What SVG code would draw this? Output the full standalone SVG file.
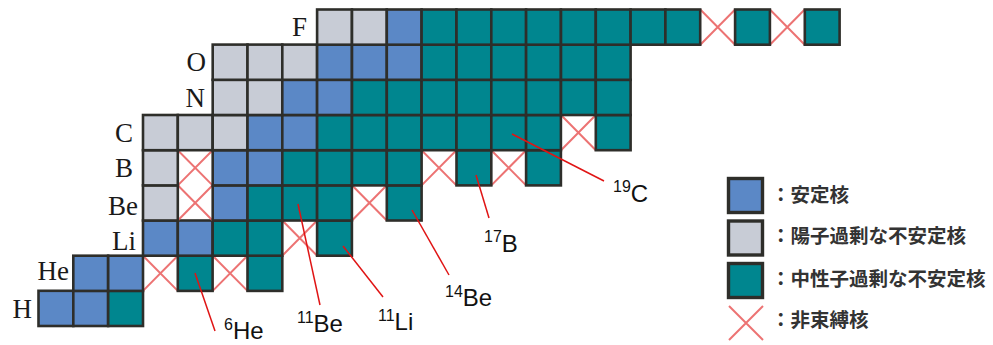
<svg xmlns="http://www.w3.org/2000/svg" width="993" height="345" viewBox="0 0 993 345">
<style>
.c{stroke:#2e2e2a;stroke-width:2.6}
.b{fill:#5b88c6}.g{fill:#c8ccd6}.t{fill:#00868f}
.x{stroke:#ea6464;stroke-width:2;fill:none;opacity:0.9}
.el{font-family:"Liberation Serif","Times New Roman",serif;font-size:27px;fill:#1a1a1a;text-anchor:end}
.iso{font-family:"Liberation Sans",Arial,sans-serif;font-size:24px;fill:#111}
.sup{font-size:16px}
.lead{stroke:#e01414;stroke-width:1.5;fill:none}
.lg{font-family:"Noto Sans CJK JP","Noto Sans CJK SC",sans-serif;font-size:19.5px;font-weight:bold;fill:#333}
.ls{stroke:#2e2e2a;stroke-width:3.4}
</style>
<defs>
<path id="X" class="x" d="M0 0L34.8 35.2M34.8 0L0 35.2"/>
</defs>
<g id="chart">
<g id="row-H">
<rect id="H1" class="c b" x="38.5" y="290.8" width="34.8" height="35.2"/>
<rect id="H2" class="c b" x="73.3" y="290.8" width="34.8" height="35.2"/>
<rect id="H3" class="c t" x="108.2" y="290.8" width="34.8" height="35.2"/>
</g>
<g id="row-He">
<use id="He5" href="#X" x="143.0" y="255.7"/>
<use id="He7" href="#X" x="212.7" y="255.7"/>
<rect id="He3" class="c b" x="73.3" y="255.7" width="34.8" height="35.2"/>
<rect id="He4" class="c b" x="108.2" y="255.7" width="34.8" height="35.2"/>
<rect id="He6" class="c t" x="177.8" y="255.7" width="34.8" height="35.2"/>
<rect id="He8" class="c t" x="247.5" y="255.7" width="34.8" height="35.2"/>
</g>
<g id="row-Li">
<use id="Li10" href="#X" x="282.3" y="220.5"/>
<rect id="Li6" class="c b" x="143.0" y="220.5" width="34.8" height="35.2"/>
<rect id="Li7" class="c b" x="177.8" y="220.5" width="34.8" height="35.2"/>
<rect id="Li8" class="c t" x="212.7" y="220.5" width="34.8" height="35.2"/>
<rect id="Li9" class="c t" x="247.5" y="220.5" width="34.8" height="35.2"/>
<rect id="Li11" class="c t" x="317.1" y="220.5" width="34.8" height="35.2"/>
</g>
<g id="row-Be">
<use id="Be8" href="#X" x="177.8" y="185.3"/>
<use id="Be13" href="#X" x="352.0" y="185.3"/>
<rect id="Be7" class="c g" x="143.0" y="185.3" width="34.8" height="35.2"/>
<rect id="Be9" class="c b" x="212.7" y="185.3" width="34.8" height="35.2"/>
<rect id="Be10" class="c t" x="247.5" y="185.3" width="34.8" height="35.2"/>
<rect id="Be11" class="c t" x="282.3" y="185.3" width="34.8" height="35.2"/>
<rect id="Be12" class="c t" x="317.1" y="185.3" width="34.8" height="35.2"/>
<rect id="Be14" class="c t" x="386.8" y="185.3" width="34.8" height="35.2"/>
</g>
<g id="row-B">
<use id="B9" href="#X" x="177.8" y="150.2"/>
<use id="B16" href="#X" x="421.6" y="150.2"/>
<use id="B18" href="#X" x="491.3" y="150.2"/>
<rect id="B8" class="c g" x="143.0" y="150.2" width="34.8" height="35.2"/>
<rect id="B10" class="c b" x="212.7" y="150.2" width="34.8" height="35.2"/>
<rect id="B11" class="c b" x="247.5" y="150.2" width="34.8" height="35.2"/>
<rect id="B12" class="c t" x="282.3" y="150.2" width="34.8" height="35.2"/>
<rect id="B13" class="c t" x="317.1" y="150.2" width="34.8" height="35.2"/>
<rect id="B14" class="c t" x="352.0" y="150.2" width="34.8" height="35.2"/>
<rect id="B15" class="c t" x="386.8" y="150.2" width="34.8" height="35.2"/>
<rect id="B17" class="c t" x="456.5" y="150.2" width="34.8" height="35.2"/>
<rect id="B19" class="c t" x="526.1" y="150.2" width="34.8" height="35.2"/>
</g>
<g id="row-C">
<use id="C21" href="#X" x="561.0" y="115.0"/>
<rect id="C9" class="c g" x="143.0" y="115.0" width="34.8" height="35.2"/>
<rect id="C10" class="c g" x="177.8" y="115.0" width="34.8" height="35.2"/>
<rect id="C11" class="c g" x="212.7" y="115.0" width="34.8" height="35.2"/>
<rect id="C12" class="c b" x="247.5" y="115.0" width="34.8" height="35.2"/>
<rect id="C13" class="c b" x="282.3" y="115.0" width="34.8" height="35.2"/>
<rect id="C14" class="c t" x="317.1" y="115.0" width="34.8" height="35.2"/>
<rect id="C15" class="c t" x="352.0" y="115.0" width="34.8" height="35.2"/>
<rect id="C16" class="c t" x="386.8" y="115.0" width="34.8" height="35.2"/>
<rect id="C17" class="c t" x="421.6" y="115.0" width="34.8" height="35.2"/>
<rect id="C18" class="c t" x="456.5" y="115.0" width="34.8" height="35.2"/>
<rect id="C19" class="c t" x="491.3" y="115.0" width="34.8" height="35.2"/>
<rect id="C20" class="c t" x="526.1" y="115.0" width="34.8" height="35.2"/>
<rect id="C22" class="c t" x="595.8" y="115.0" width="34.8" height="35.2"/>
</g>
<g id="row-N">
<rect id="N12" class="c g" x="212.7" y="79.8" width="34.8" height="35.2"/>
<rect id="N13" class="c g" x="247.5" y="79.8" width="34.8" height="35.2"/>
<rect id="N14" class="c b" x="282.3" y="79.8" width="34.8" height="35.2"/>
<rect id="N15" class="c b" x="317.1" y="79.8" width="34.8" height="35.2"/>
<rect id="N16" class="c t" x="352.0" y="79.8" width="34.8" height="35.2"/>
<rect id="N17" class="c t" x="386.8" y="79.8" width="34.8" height="35.2"/>
<rect id="N18" class="c t" x="421.6" y="79.8" width="34.8" height="35.2"/>
<rect id="N19" class="c t" x="456.5" y="79.8" width="34.8" height="35.2"/>
<rect id="N20" class="c t" x="491.3" y="79.8" width="34.8" height="35.2"/>
<rect id="N21" class="c t" x="526.1" y="79.8" width="34.8" height="35.2"/>
<rect id="N22" class="c t" x="561.0" y="79.8" width="34.8" height="35.2"/>
<rect id="N23" class="c t" x="595.8" y="79.8" width="34.8" height="35.2"/>
</g>
<g id="row-O">
<rect id="O13" class="c g" x="212.7" y="44.6" width="34.8" height="35.2"/>
<rect id="O14" class="c g" x="247.5" y="44.6" width="34.8" height="35.2"/>
<rect id="O15" class="c g" x="282.3" y="44.6" width="34.8" height="35.2"/>
<rect id="O16" class="c b" x="317.1" y="44.6" width="34.8" height="35.2"/>
<rect id="O17" class="c b" x="352.0" y="44.6" width="34.8" height="35.2"/>
<rect id="O18" class="c b" x="386.8" y="44.6" width="34.8" height="35.2"/>
<rect id="O19" class="c t" x="421.6" y="44.6" width="34.8" height="35.2"/>
<rect id="O20" class="c t" x="456.5" y="44.6" width="34.8" height="35.2"/>
<rect id="O21" class="c t" x="491.3" y="44.6" width="34.8" height="35.2"/>
<rect id="O22" class="c t" x="526.1" y="44.6" width="34.8" height="35.2"/>
<rect id="O23" class="c t" x="561.0" y="44.6" width="34.8" height="35.2"/>
<rect id="O24" class="c t" x="595.8" y="44.6" width="34.8" height="35.2"/>
</g>
<g id="row-F">
<use id="F28" href="#X" x="700.3" y="9.5"/>
<use id="F30" href="#X" x="769.9" y="9.5"/>
<rect id="F17" class="c g" x="317.1" y="9.5" width="34.8" height="35.2"/>
<rect id="F18" class="c g" x="352.0" y="9.5" width="34.8" height="35.2"/>
<rect id="F19" class="c b" x="386.8" y="9.5" width="34.8" height="35.2"/>
<rect id="F20" class="c t" x="421.6" y="9.5" width="34.8" height="35.2"/>
<rect id="F21" class="c t" x="456.5" y="9.5" width="34.8" height="35.2"/>
<rect id="F22" class="c t" x="491.3" y="9.5" width="34.8" height="35.2"/>
<rect id="F23" class="c t" x="526.1" y="9.5" width="34.8" height="35.2"/>
<rect id="F24" class="c t" x="561.0" y="9.5" width="34.8" height="35.2"/>
<rect id="F25" class="c t" x="595.8" y="9.5" width="34.8" height="35.2"/>
<rect id="F26" class="c t" x="630.6" y="9.5" width="34.8" height="35.2"/>
<rect id="F27" class="c t" x="665.4" y="9.5" width="34.8" height="35.2"/>
<rect id="F29" class="c t" x="735.1" y="9.5" width="34.8" height="35.2"/>
<rect id="F31" class="c t" x="804.8" y="9.5" width="34.8" height="35.2"/>
</g>
</g>
<g id="element-labels">
<text class="el" x="307" y="36">F</text>
<text class="el" x="206" y="71">O</text>
<text class="el" x="205" y="107">N</text>
<text class="el" x="133" y="142">C</text>
<text class="el" x="133" y="177">B</text>
<text class="el" x="138" y="215">Be</text>
<text class="el" x="136" y="250">Li</text>
<text class="el" x="69" y="280">He</text>
<text class="el" x="32" y="318">H</text>
</g>
<g id="connectors">
<line class="lead" x1="195" y1="273" x2="215" y2="331"/>
<line class="lead" x1="298" y1="204" x2="320" y2="305"/>
<line class="lead" x1="343" y1="246" x2="383" y2="297"/>
<line class="lead" x1="412" y1="210" x2="449" y2="275"/>
<line class="lead" x1="476" y1="175" x2="489" y2="218"/>
<line class="lead" x1="512" y1="134" x2="604" y2="181"/>
</g>
<g id="isotope-labels">
<g id="lbl-6He"><text class="iso" x="224" y="339"><tspan class="sup" dy="-9.5">6</tspan><tspan dy="9.5">He</tspan></text></g>
<g id="lbl-11Be"><text class="iso" x="297" y="332"><tspan class="sup" dy="-9.5">11</tspan><tspan dy="9.5">Be</tspan></text></g>
<g id="lbl-11Li"><text class="iso" x="378" y="330"><tspan class="sup" dy="-9.5">11</tspan><tspan dy="9.5">Li</tspan></text></g>
<g id="lbl-14Be"><text class="iso" x="445" y="306"><tspan class="sup" dy="-9.5">14</tspan><tspan dy="9.5">Be</tspan></text></g>
<g id="lbl-17B"><text class="iso" x="484" y="251.5"><tspan class="sup" dy="-9.5">17</tspan><tspan dy="9.5">B</tspan></text></g>
<g id="lbl-19C"><text class="iso" x="613" y="201.5"><tspan class="sup" dy="-9.5">19</tspan><tspan dy="9.5">C</tspan></text></g>
</g>
<g id="legend">
<g id="lg-stable"><rect class="ls b" x="728.5" y="178.5" width="34" height="34"/><text class="lg" x="771" y="202">：安定核</text></g>
<g id="lg-proton"><rect class="ls g" x="728.5" y="221" width="34" height="34"/><text class="lg" x="771" y="243">：陽子過剰な不安定核</text></g>
<g id="lg-neutron"><rect class="ls t" x="728.5" y="263.5" width="34" height="34"/><text class="lg" x="771" y="286">：中性子過剰な不安定核</text></g>
<g id="lg-unbound"><path class="x" d="M729 306L763 340M763 306L729 340"/><text class="lg" x="771" y="327">：非束縛核</text></g>
</g>
</svg>
